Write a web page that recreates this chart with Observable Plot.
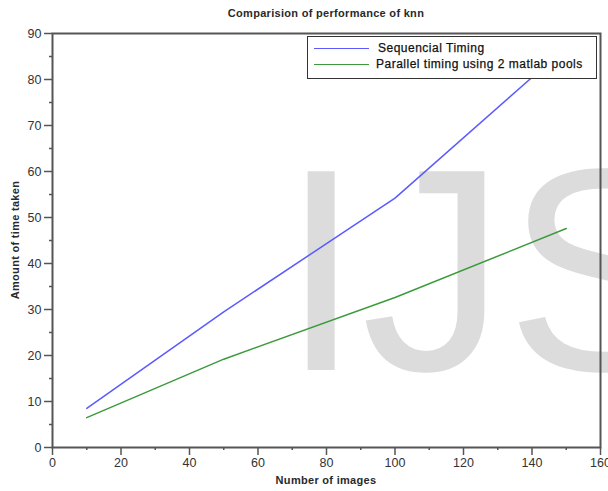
<!DOCTYPE html>
<html>
<head>
<meta charset="utf-8">
<script src="https://cdn.jsdelivr.net/npm/d3@7"></script>
<script src="https://cdn.jsdelivr.net/npm/@observablehq/plot@0.6"></script>
<style>
  html, body { margin: 0; padding: 0; background: #fff; }
  #wrap { position: relative; width: 608px; height: 491px; overflow: hidden; font-family: "Liberation Sans", Arial, sans-serif; }
  #wm { position: absolute; left: 281px; top: 0; font-family: "Liberation Sans", Arial, sans-serif; font-size: 289px; color: #dcdcdc; white-space: nowrap; z-index: 0; line-height: 1; }
  #chart { position: absolute; left: 0; top: 0; z-index: 1; }
  .lbl { position: absolute; color: #2a2a2a; font-size: 11px; font-weight: bold; white-space: nowrap; z-index: 2; letter-spacing: 0.3px; }
  #legend { position: absolute; left: 307px; top: 36px; width: 288px; height: 41px; background: #fff; border: 1.5px solid #333; z-index: 3; }
  .entry { position: absolute; left: 0; height: 16px; width: 100%; }
  .entry .sw { position: absolute; left: 6px; width: 55px; top: 7px; height: 0; border-top: 1.5px solid; }
  .entry .tx { position: absolute; top: 0; font-size: 12px; font-weight: normal; color: #111; letter-spacing: 0.5px; white-space: nowrap; -webkit-text-stroke: 0.25px #111; }
</style>
</head>
<body>
<div id="wrap">
  <div id="wm"></div>
  <div id="chart"></div>
  <div class="lbl" id="title"></div>
  <div class="lbl" id="xlabel"></div>
  <div class="lbl" id="ylabel"></div>
  <div id="legend"></div>
</div>
<script>
// ---- data ----
const titleText = "Comparision of performance of knn";
const xLabelText = "Number of images";
const yLabelText = "Amount of time taken";
const watermarkText = "IJS";
const numImages = [10, 50, 100, 150];
const sequentialTiming = [8.5, 29.5, 54.2, 87];
const parallelTiming = [6.5, 19.2, 32.6, 47.6];
const seriesNames = ["Sequencial Timing", "Parallel timing using 2 matlab pools"];
const seriesColors = ["#5a5aff", "#3c9a3c"];
const xTickValues = [0, 20, 40, 60, 80, 100, 120, 140, 160];
const xMinorTicks = [10, 30, 50, 70, 90, 110, 130, 150];
const yTickValues = [0, 10, 20, 30, 40, 50, 60, 70, 80, 90];
const yMinorTicks = [5, 15, 25, 35, 45, 55, 65, 75, 85];

const rows = [];
numImages.forEach((n, i) => {
  rows.push({x: n, y: sequentialTiming[i], s: seriesNames[0]});
});
numImages.forEach((n, i) => {
  rows.push({x: n, y: parallelTiming[i], s: seriesNames[1]});
});

const axisColor = "#555";
const chart = Plot.plot({
  width: 608,
  height: 491,
  marginLeft: 52,
  marginRight: 8,
  marginTop: 33,
  marginBottom: 44,
  style: {background: "transparent", fontFamily: "Liberation Sans, Arial, sans-serif", fontSize: "12.5px", color: "#333"},
  x: {domain: [0, 160]},
  y: {domain: [0, 90]},
  color: {domain: seriesNames, range: seriesColors},
  marks: [
    Plot.axisX({ticks: xMinorTicks, tickSize: 3, text: null, label: null, stroke: axisColor, strokeWidth: 1.5}),
    Plot.axisX({ticks: xTickValues, tickSize: 8, tickPadding: 3, label: null, stroke: axisColor, strokeWidth: 1.5, fill: "#333", tickFormat: d => String(d)}),
    Plot.axisY({ticks: yMinorTicks, tickSize: 3, text: null, label: null, stroke: axisColor, strokeWidth: 1.5}),
    Plot.axisY({ticks: yTickValues, tickSize: 8, tickPadding: 3, label: null, stroke: axisColor, strokeWidth: 1.5, fill: "#333", tickFormat: d => String(d)}),
    Plot.frame({stroke: axisColor, strokeWidth: 2}),
    Plot.line(rows, {x: "x", y: "y", stroke: "s", z: "s", strokeWidth: 1.5})
  ]
});
document.getElementById("chart").appendChild(chart);

// texts
const wm = document.getElementById("wm");
wm.textContent = watermarkText;
wm.style.top = (371 - 289 * 0.905 + 16) + "px";

const t = document.getElementById("title");
t.textContent = titleText;
t.style.left = "326px"; t.style.top = "7px"; t.style.transform = "translateX(-50%)";
const xl = document.getElementById("xlabel");
xl.textContent = xLabelText;
xl.style.left = "326px"; xl.style.top = "474px"; xl.style.transform = "translateX(-50%)";
const yl = document.getElementById("ylabel");
yl.textContent = yLabelText;
yl.style.left = "15px"; yl.style.top = "240px"; yl.style.transform = "translate(-50%, -50%) rotate(-90deg)";

const lg = document.getElementById("legend");
const textLefts = [70, 68];
seriesNames.forEach((name, i) => {
  const e = document.createElement("div");
  e.className = "entry";
  e.style.top = (4 + i * 16) + "px";
  const sw = document.createElement("div");
  sw.className = "sw";
  sw.style.borderTopColor = seriesColors[i];
  const tx = document.createElement("div");
  tx.className = "tx";
  tx.style.left = textLefts[i] + "px";
  tx.textContent = name;
  e.appendChild(sw); e.appendChild(tx);
  lg.appendChild(e);
});
</script>
</body>
</html>
